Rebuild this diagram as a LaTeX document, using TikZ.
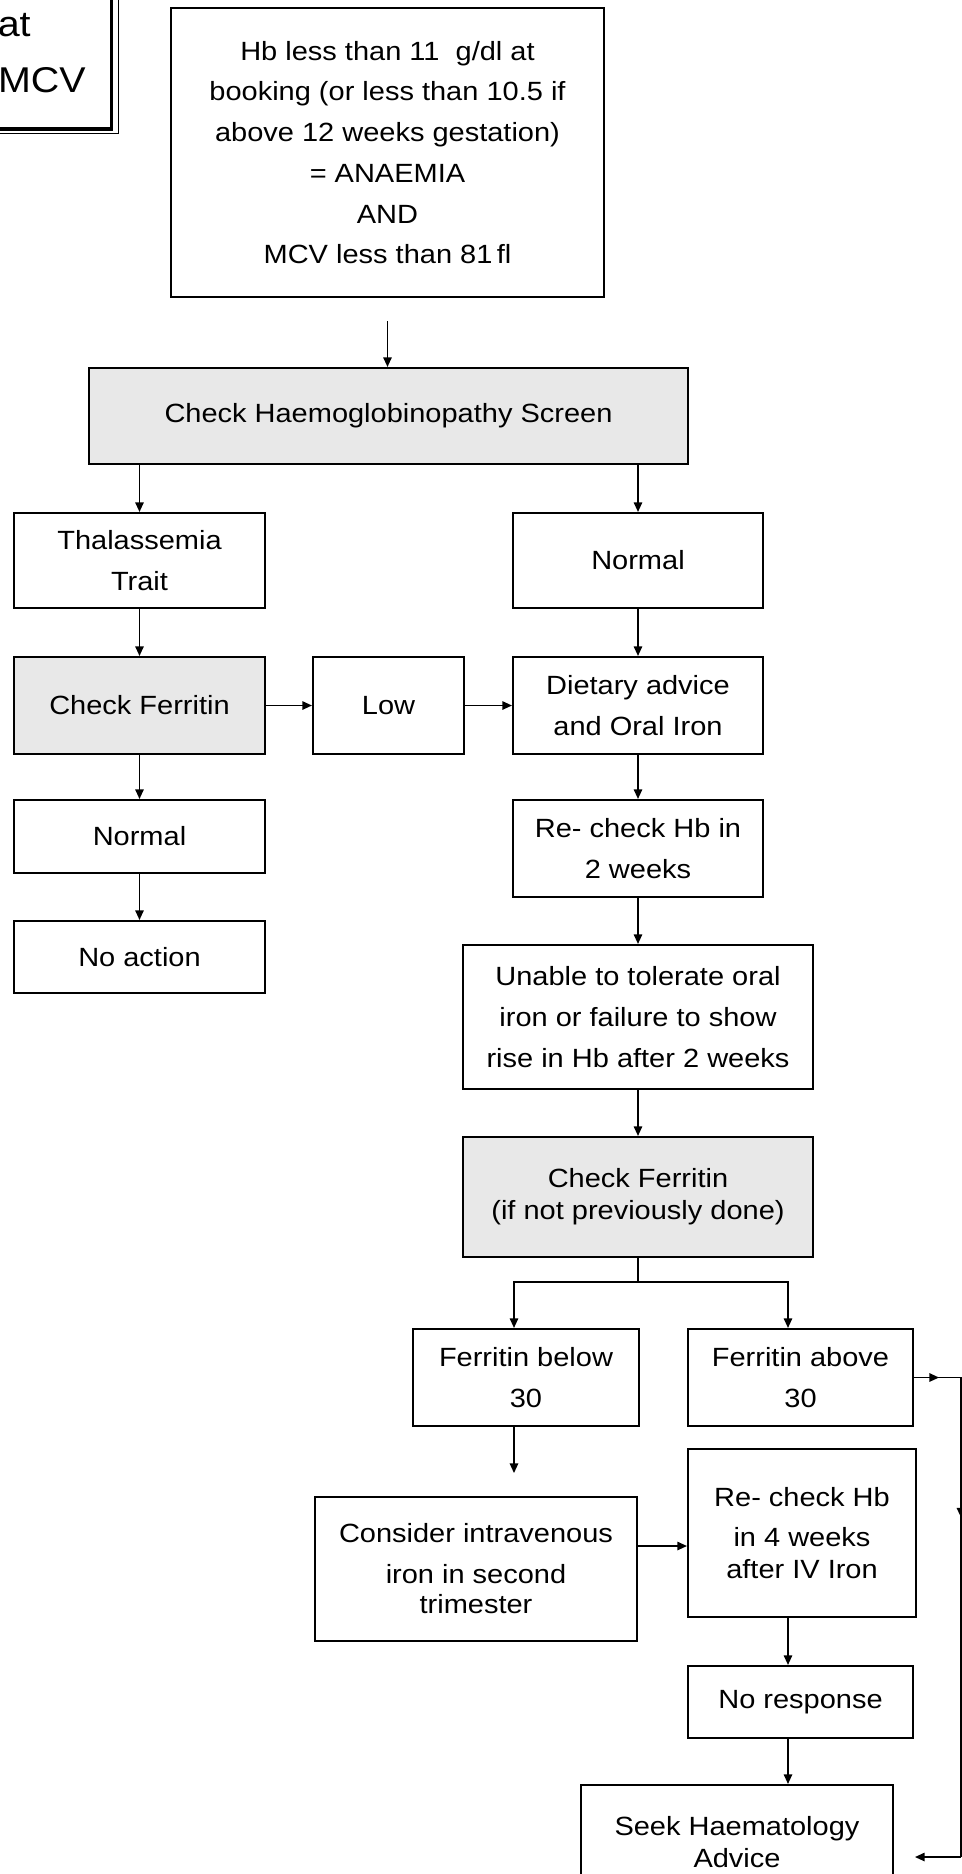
\documentclass[tikz,border=0pt]{standalone}
\usepackage{fontspec}
\setmainfont{Liberation Sans}[FakeStretch=1.1]
\usepackage{tikz}
\usetikzlibrary{arrows.meta,calc}
\definecolor{boxgrey}{HTML}{E8E8E8}

\begin{document}
\begin{tikzpicture}[x=0.02cm,y=-0.02cm]
	\tikzstyle{box}=[draw=black,line width=1.2pt,inner sep=0pt,align=center,font=\fontsize{15}{23.2}\selectfont]
	\tikzstyle{greybox}=[box,fill=boxgrey]
	\tikzstyle{arr}=[line width=0.9pt,-{Triangle[length=5.5pt,width=4.8pt]}]
	\useasboundingbox (0,0) rectangle (962,1874);
	% framed note in the corner, cut by the page edge
	\draw[line width=0.5pt] (-200,-50) rectangle (118.5,133.5);
	\draw[line width=2.2pt] (-200,-50) rectangle (111.5,129);
	\node[anchor=east,inner sep=0pt,font=\fontsize{20.4}{30}\selectfont] (noteA) at (31,25) {at};
	\node[anchor=east,inner sep=0pt,font=\fontsize{20.4}{30}\selectfont] (noteB) at (86,80) {MCV};
	% main column
	\node[box,minimum width=8.66cm,minimum height=5.78cm] (hb) at (387.5,152.5) {Hb less than 11~ g/dl at\\booking (or less than 10.5 if\\above 12 weeks gestation)\\= ANAEMIA\\AND\\MCV less than 81\,fl};
	\node[greybox,minimum width=11.98cm,minimum height=1.92cm] (screen) at (388.5,416) {Check Haemoglobinopathy Screen};
	\node[box,minimum width=5.02cm,minimum height=1.9cm] (thal) at (139.5,560.5) {Thalassemia\\Trait};
	\node[box,minimum width=5cm,minimum height=1.9cm] (normR) at (638,560.5) {Normal};
	\node[greybox,minimum width=5.02cm,minimum height=1.94cm] (cfA) at (139.5,705.5) {Check Ferritin};
	\node[box,minimum width=3.02cm,minimum height=1.94cm] (low) at (388.5,705.5) {Low};
	\node[box,minimum width=5cm,minimum height=1.94cm] (diet) at (638,705.5) {Dietary advice\\and Oral Iron};
	\node[box,minimum width=5.02cm,minimum height=1.46cm] (normL) at (139.5,836.5) {Normal};
	\node[box,minimum width=5.02cm,minimum height=1.44cm] (noact) at (139.5,957) {No action};
	\node[box,minimum width=5cm,minimum height=1.94cm] (recheck) at (638,848.5) {Re- check Hb in\\2 weeks};
	\node[box,minimum width=7cm,minimum height=2.88cm] (unable) at (638,1017) {Unable to tolerate oral\\iron or failure to show\\rise in Hb after 2 weeks};
	\node[greybox,minimum width=7cm,minimum height=2.4cm] (cfB) at (638,1197) {Check Ferritin\\[-5pt](if not previously done)};
	\node[box,minimum width=4.52cm,minimum height=1.94cm] (fbelow) at (526,1377.5) {Ferritin below\\30};
	\node[box,minimum width=4.5cm,minimum height=1.94cm] (fabove) at (800.5,1377.5) {Ferritin above\\30};
	\node[box,minimum width=6.44cm,minimum height=2.88cm] (consider) at (476,1569) {Consider intravenous\\iron in second\\[-6pt]trimester};
	\node[box,minimum width=4.56cm,minimum height=3.36cm] (recheckB) at (802,1533) {Re- check Hb\\in 4 weeks\\[-5pt]after IV Iron};
	\node[box,minimum width=4.5cm,minimum height=1.44cm] (noresp) at (800.5,1702) {No response};
	\node[box,minimum width=6.24cm,minimum height=2.28cm] (seek) at (737,1842) {Seek Haematology\\[-5pt]Advice};
	% connectors
	\coordinate (colM) at (514,0);
	\coordinate (colR) at (788,0);
	\draw[arr] ($(hb.south)+(0,23)$) -- (hb.south |- screen.north);
	\draw[arr] (screen.south -| thal.north) -- (thal.north);
	\draw[arr] (screen.south -| normR.north) -- (normR.north);
	\draw[arr] (thal.south) -- (cfA.north);
	\draw[arr] (cfA.east) -- (low.west);
	\draw[arr] (low.east) -- (diet.west);
	\draw[arr] (cfA.south) -- (normL.north);
	\draw[arr] (normL.south) -- (noact.north);
	\draw[arr] (normR.south) -- (diet.north);
	\draw[arr] (diet.south) -- (recheck.north);
	\draw[arr] (recheck.south) -- (unable.north);
	\draw[arr] (unable.south) -- (cfB.north);
	\draw[arr] (cfB.south) -- ++(0,24) -| (fbelow.north -| colM);
	\draw[arr] (cfB.south) -- ++(0,24) -| (fabove.north -| colR);
	\draw[arr] (fbelow.south -| colM) -- ++(0,46);
	\draw[arr] ($(consider.east)+(0,-23)$) -- ($(recheckB.west)+(0,13)$);
	\draw[arr] (recheckB.south -| colR) -- (noresp.north -| colR);
	\draw[arr] (noresp.south -| colR) -- (seek.north -| colR);
	% back round the right edge
	\coordinate (edgeT) at (961,1377.5);
	\coordinate (edgeB) at (961,1857);
	\coordinate (back) at (915,1857);
	\draw[line width=0.9pt] (fabove.east) -- (edgeT) -- (edgeB);
	\draw[arr] (fabove.east) -- ($(fabove.east)+(25,0)$);
	\draw[arr] (edgeT) -- ($(edgeT)+(0,140)$);
	\draw[arr] (edgeB) -- (back);
\end{tikzpicture}
\end{document}
